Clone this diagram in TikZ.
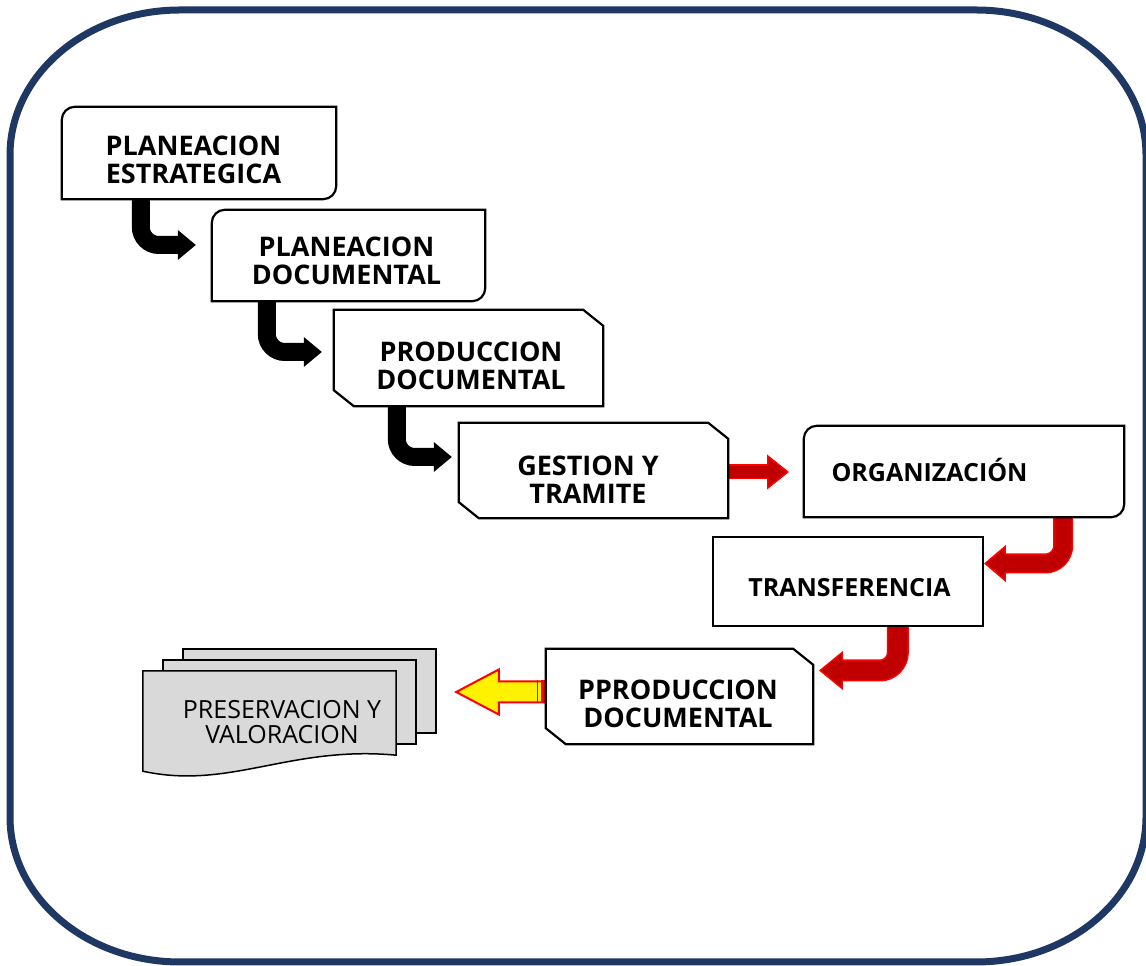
\documentclass[tikz,border=0pt]{standalone}
\usepackage{fontspec}
\setmainfont{Open Sans}
\usetikzlibrary{calc}
\definecolor{frameblue}{RGB}{31,56,99}
\definecolor{darkred}{RGB}{192,0,0}
\definecolor{docgray}{RGB}{217,217,217}
\begin{document}
\begin{tikzpicture}[x=1pt,y=1pt,
        outline/.style={draw=black,line width=2.2pt,line join=miter},
        hidden/.style={draw=none,inner sep=0pt},
        boxtxt/.style={align=center,inner sep=0pt,font=\bfseries\fontsize{27}{28}\selectfont},
        onetxt/.style={inner sep=0pt,anchor=base,font=\bfseries\fontsize{25}{28}\selectfont},
        doctxt/.style={align=center,inner sep=0pt,font=\fontsize{25}{25}\selectfont},
        docpage/.style={fill=docgray,draw=black,line width=1.5pt},
        blkshaft/.style={line width=18pt,rounded corners=18pt},
        redout/.style={draw=red,line width=#1,rounded corners=18pt},
        redin/.style={draw=darkred,line width=#1,rounded corners=18pt},
        redhead/.style={fill=darkred,draw=red,line width=1.5pt,line join=miter},
        yarrow/.style={fill=yellow,draw=red,line width=2pt,line join=miter}]
        \useasboundingbox (0,0) rectangle (1146,966);
        \draw[frameblue,line width=7pt] (10,149) -- (10,811) arc[start angle=180,end angle=90,x radius=170,y radius=145] -- (976,956) arc[start angle=90,end angle=0,x radius=170,y radius=145] -- (1146,149) arc[start angle=0,end angle=-90,x radius=170,y radius=145] -- (180,4) arc[start angle=270,end angle=180,x radius=170,y radius=145] -- cycle;

        \node[hidden,minimum width=274,minimum height=92] (pe) at (199,813) {};
        \node[hidden,minimum width=273,minimum height=91] (pd) at (348.5,710.5) {};
        \node[hidden,minimum width=269,minimum height=96] (prd) at (468.5,608) {};
        \node[hidden,minimum width=269,minimum height=95] (gt) at (593.5,495.5) {};
        \node[hidden,minimum width=320,minimum height=91] (org) at (964,494.5) {};
        \node[hidden,minimum width=270,minimum height=89] (tr) at (848,384.5) {};
        \node[hidden,minimum width=267,minimum height=95] (ppd) at (679.5,269.5) {};
        \node[hidden,minimum width=253,minimum height=100] (pv) at (269.5,245) {};

        % black arrows
        \coordinate (b1s) at ($(pe.south west)+(79,0)$);
        \coordinate (b1t) at ($(pd.west)+(-16,10.5)$);
        \coordinate (b2s) at ($(pd.south west)+(55,0)$);
        \coordinate (b2t) at ($(prd.west)+(-12,6)$);
        \coordinate (b3s) at ($(prd.south west)+(63,0)$);
        \coordinate (b3t) at ($(gt.west)+(-7,13.5)$);
        \draw[blkshaft] (b1s) |- ([xshift=-17]b1t);
        \fill ([xshift=-18,yshift=15]b1t) -- (b1t) -- ([xshift=-18,yshift=-15]b1t) -- cycle;
        \draw[blkshaft] (b2s) |- ([xshift=-17]b2t);
        \fill ([xshift=-18,yshift=15]b2t) -- (b2t) -- ([xshift=-18,yshift=-15]b2t) -- cycle;
        \draw[blkshaft] (b3s) |- ([xshift=-17]b3t);
        \fill ([xshift=-18,yshift=15]b3t) -- (b3t) -- ([xshift=-18,yshift=-15]b3t) -- cycle;

        % red arrows
        \coordinate (r0s) at ($(gt.east)+(0,-1.5)$);
        \coordinate (r0t) at ($(org.west)+(-16,-0.5)$);
        \draw[redout=15pt] (r0s) -- ([xshift=-19]r0t);
        \filldraw[redhead] ([xshift=-20,yshift=16]r0t) -- (r0t) -- ([xshift=-20,yshift=-16]r0t) -- cycle;
        \draw[redin=12pt] (r0s) -- ([xshift=-18.5]r0t);
        \coordinate (r1s) at ($(org.south east)+(-61,0)$);
        \coordinate (r1t) at ($(tr.east)+(2,18)$);
        \draw[redout=20pt] (r1s) |- ([xshift=19]r1t);
        \filldraw[redhead] ([xshift=20,yshift=17]r1t) -- (r1t) -- ([xshift=20,yshift=-17]r1t) -- cycle;
        \draw[redin=17pt] (r1s) |- ([xshift=18.5]r1t);
        \coordinate (r2s) at ($(tr.south west)+(185,0)$);
        \coordinate (r2t) at ($(ppd.east)+(7,26)$);
        \draw[redout=22pt] (r2s) |- ([xshift=21]r2t);
        \filldraw[redhead] ([xshift=22,yshift=18]r2t) -- (r2t) -- ([xshift=22,yshift=-18]r2t) -- cycle;
        \draw[redin=19pt] (r2s) |- ([xshift=20.5]r2t);

        % yellow arrow
        \coordinate (ys) at ($(ppd.west)+(0,4.5)$);
        \coordinate (yt) at ($(pv.east)+(60,29)$);
        \filldraw[yarrow] ([yshift=10.5]ys) -- ([xshift=-47,yshift=10.5]ys) -- ([xshift=-47,yshift=22.5]ys) -- (yt) -- ([xshift=-47,yshift=-22.5]ys) -- ([xshift=-47,yshift=-10.5]ys) -- ([yshift=-10.5]ys);
        \fill[red] ([xshift=-5,yshift=-11.5]ys) rectangle ([yshift=11.5]ys);
        \draw[red,line width=1pt] ([xshift=-8,yshift=-11.5]ys) -- ([xshift=-8,yshift=11.5]ys);

        % boxes
        \draw[outline] (pe.south west) -- ([yshift=-13]pe.north west) arc[start angle=180,end angle=90,radius=13] -- (pe.north east) -- ([yshift=13]pe.south east) arc[start angle=0,end angle=-90,radius=13] -- cycle;
        \draw[outline] (pd.south west) -- ([yshift=-13]pd.north west) arc[start angle=180,end angle=90,radius=13] -- (pd.north east) -- ([yshift=13]pd.south east) arc[start angle=0,end angle=-90,radius=13] -- cycle;
        \draw[outline] (org.south west) -- ([yshift=-13]org.north west) arc[start angle=180,end angle=90,radius=13] -- (org.north east) -- ([yshift=13]org.south east) arc[start angle=0,end angle=-90,radius=13] -- cycle;
        \draw[outline] (prd.north west) -- ([xshift=-20]prd.north east) -- ([yshift=-16]prd.north east) -- (prd.south east) -- ([xshift=20]prd.south west) -- ([yshift=16]prd.south west) -- cycle;
        \draw[outline] (gt.north west) -- ([xshift=-20]gt.north east) -- ([yshift=-16]gt.north east) -- (gt.south east) -- ([xshift=20]gt.south west) -- ([yshift=16]gt.south west) -- cycle;
        \draw[outline] (ppd.north west) -- ([xshift=-20]ppd.north east) -- ([yshift=-16]ppd.north east) -- (ppd.south east) -- ([xshift=20]ppd.south west) -- ([yshift=16]ppd.south west) -- cycle;
        \draw[outline] (tr.south west) rectangle (tr.north east);

        % document stack
        \filldraw[docpage] ($(pv.north west)+(40,22)$) rectangle ++(253,-84);
        \filldraw[docpage] ($(pv.north west)+(20,11)$) rectangle ++(253,-84);
        \filldraw[docpage] (pv.north west) -- (pv.north east) -- ([yshift=16]pv.south east) .. controls ([xshift=-106,yshift=26]pv.south east) and ([xshift=87,yshift=-19]pv.south west) .. (pv.south west) -- cycle;

        \node[boxtxt] (pe-t) at (193.5,806.3) {PLANEACION\\ESTRATEGICA};
        \node[boxtxt] (pd-t) at (346.5,705) {PLANEACION\\DOCUMENTAL};
        \node[boxtxt] (prd-t) at (471,600.2) {PRODUCCION\\DOCUMENTAL};
        \node[boxtxt] (gt-t) at (588,486) {GESTION Y\\TRAMITE};
        \node[onetxt] (org-t) at (929.5,484.3) {ORGANIZACIÓN};
        \node[onetxt] (tr-t) at (849.5,369) {TRANSFERENCIA};
        \node[boxtxt] (ppd-t) at (678,262) {PPRODUCCION\\DOCUMENTAL};
        \node[doctxt] (pv-t) at (282,243.5) {PRESERVACION Y\\VALORACION};
\end{tikzpicture}
\end{document}
